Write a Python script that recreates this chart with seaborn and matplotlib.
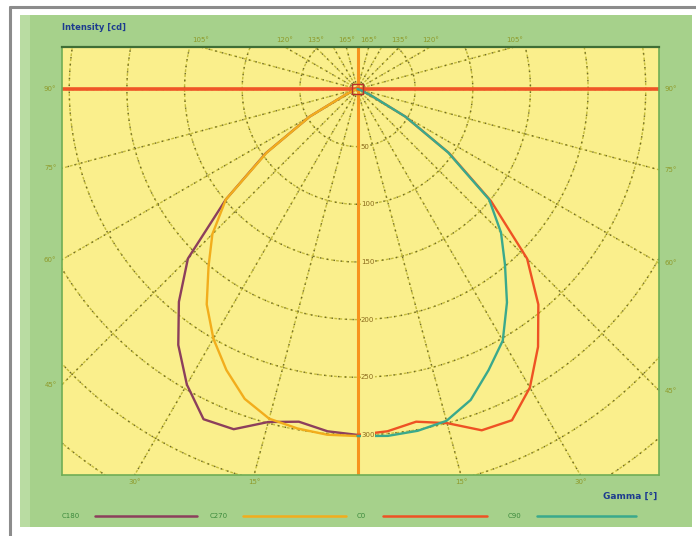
import numpy as np
import pandas as pd
import seaborn as sns
import matplotlib
matplotlib.use("Agg")
import matplotlib.pyplot as plt
from matplotlib.patches import Rectangle
from matplotlib.lines import Line2D

# Luminous intensity distribution (cd) per C-plane, gamma measured from nadir
gamma_deg = [0, 5, 10, 15, 20, 25, 30, 35, 40, 45, 50, 55, 60, 65, 70, 75, 80, 85, 90]
c180 = [300, 298, 293, 299, 314, 316, 296, 271, 241, 208, 149, 97, 48, 11, 3, 0, 0, 0, 0]
c270 = [301, 301, 299, 296, 286, 269, 250, 228, 201, 178, 149, 96, 48, 11, 3, 0, 0, 0, 0]
c0 = [300, 298, 293, 300, 315, 317, 299, 273, 244, 208, 151, 97, 48, 12, 3, 0, 0, 0, 0]
c90 = [301, 302, 301, 298, 287, 269, 252, 226, 199, 176, 149, 96, 48, 12, 3, 0, 0, 0, 0]

plane_names = ["C180", "C270", "C0", "C90"]
plane_values = {"C180": c180, "C270": c270, "C0": c0, "C90": c90}
plane_side = {"C180": -1, "C270": -1, "C0": 1, "C90": 1}
plane_colors = {"C180": "#8c3f5c", "C270": "#f2ad1c", "C0": "#ee5224", "C90": "#3aa98c"}

ring_values = [50, 100, 150, 200, 250, 300]
angle_labels = [15, 30, 45, 60, 75, 90, 105, 120, 135, 165]

# polar -> cartesian (cd units), left half for C180/C270, right half for C0/C90
rows = []
for name in plane_names:
    for i, (g, v) in enumerate(zip(gamma_deg, plane_values[name])):
        a = np.radians(g)
        rows.append({"plane": name, "order": i,
                     "x": plane_side[name] * v * np.sin(a),
                     "y": -v * np.cos(a)})
df = pd.DataFrame(rows)

sns.set_theme(style="white")
plt.rcParams["font.family"] = ["DejaVu Sans"]

W, H = 696, 536
fig = plt.figure(figsize=(W / 100, H / 100), dpi=100)
fig.patch.set_facecolor("white")


def fx(x):
    return x / W


def fy(y):
    return 1 - y / H


# outer frame and green panel
fig.add_artist(Line2D([fx(10), fx(10)], [0, fy(7)], color="#8c8c8c", lw=2.2,
                      transform=fig.transFigure, zorder=-2))
fig.add_artist(Line2D([fx(10), 1], [fy(7), fy(7)], color="#8c8c8c", lw=2.2,
                      transform=fig.transFigure, zorder=-2))
fig.add_artist(Rectangle((fx(20), fy(527)), (692 - 20) / W, (527 - 15) / H,
                         facecolor="#a6d18b", edgecolor="none",
                         transform=fig.transFigure, zorder=-1))
fig.add_artist(Rectangle((fx(20), fy(527)), 10 / W, (527 - 15) / H,
                         facecolor="#b9dca2", edgecolor="none",
                         transform=fig.transFigure, zorder=-1))

# plot area
k = 1.153  # px per cd
cx, cy = 357.5, 89.0
left, right, top, bottom = 62, 659, 47, 475
ax = fig.add_axes([fx(left), fy(bottom), (right - left) / W, (bottom - top) / H])
ax.set_facecolor("#faef8c")
xmin, xmax = -(cx - left) / k, (right - cx) / k
ymin, ymax = -(bottom - cy) / k, (cy - top) / k
ax.set_xlim(xmin, xmax)
ax.set_ylim(ymin, ymax)
ax.set_xticks([])
ax.set_yticks([])
for s in ax.spines.values():
    s.set_color("#6fae55")
    s.set_linewidth(1.2)
ax.spines["top"].set_color("#3f6e36")
ax.spines["top"].set_linewidth(1.6)

# dotted polar grid: olive dashes with darker dots on top
soft_kw = dict(color="#c4bb3a", lw=1.0, ls=(0, (2.0, 1.6)), zorder=1)
dot_kw = dict(color="#6e6a2c", lw=1.0, ls=(0, (1.0, 4.0)), zorder=1)
t = np.linspace(0, 2 * np.pi, 721)
for r in range(50, 701, 50):
    ax.plot(r * np.sin(t), r * np.cos(t), **soft_kw)
    ax.plot(r * np.sin(t), r * np.cos(t), **dot_kw)
for a in range(0, 360, 15):
    ar = np.radians(a)
    xs, ys = [0, 900 * np.sin(ar)], [0, -900 * np.cos(ar)]
    ax.plot(xs, ys, **soft_kw)
    ax.plot(xs, ys, **dot_kw)

ax.axvline(0, color="#f7931e", lw=2.2, zorder=2)
ax.axhline(0, color="#ef5526", lw=2.6, zorder=2)

sns.lineplot(data=df, x="x", y="y", hue="plane", units="plane", estimator=None,
             sort=False, palette=plane_colors, hue_order=plane_names,
             lw=1.7, legend=False, ax=ax, zorder=3)
ax.set_xlabel("")
ax.set_ylabel("")

# source marker at the origin
ax.add_patch(Rectangle((-4.5, -4.5), 9, 9, fill=False, edgecolor="#b8302a", lw=1, zorder=4))

# intensity ring labels
for r in ring_values:
    ax.text(3, -r, str(r), fontsize=5, color="#8a6a1c", ha="left", va="center",
            zorder=4, bbox=dict(facecolor="#faef8c", edgecolor="none", pad=0.3))

# gamma labels where the radial lines leave the frame
lab_kw = dict(fontsize=5, color="#8f9a2a", annotation_clip=False)
for g in angle_labels:
    a = np.radians(g)
    for side in (-1, 1):
        dx, dy = side * np.sin(a), -np.cos(a)
        cands = []
        if dx != 0:
            tx = (xmin if side < 0 else xmax) / dx
            cands.append(("side", tx))
        if dy > 1e-9:
            cands.append(("top", ymax / dy))
        if dy < -1e-9:
            cands.append(("bottom", ymin / dy))
        where, tt = min(cands, key=lambda c: c[1])
        px_, py_ = tt * dx, tt * dy
        if where == "side":
            off = (-4, 0) if side < 0 else (4, 0)
            ha = "right" if side < 0 else "left"
            ax.annotate(f"{g}°", (px_, py_), xytext=off, textcoords="offset points",
                        ha=ha, va="center", **lab_kw)
        elif where == "top":
            ax.annotate(f"{g}°", (px_, py_), xytext=(0, 3), textcoords="offset points",
                        ha="center", va="bottom", **lab_kw)
        else:
            ax.annotate(f"{g}°", (px_, py_), xytext=(0, -3), textcoords="offset points",
                        ha="center", va="top", **lab_kw)

# titles
fig.text(fx(62), fy(28), "Intensity [cd]", fontsize=6, fontweight="bold",
         color="#1d3b8f", ha="left", va="center")
fig.text(fx(657), fy(496), "Gamma [°]", fontsize=6.5, fontweight="bold",
         color="#1d3b8f", ha="right", va="center")

# legend row
legend_pos = {"C180": (62, 95, 197), "C270": (210, 243, 346),
              "C0": (357, 383, 487), "C90": (508, 537, 636)}
for name in plane_names:
    tx_, l0, l1 = legend_pos[name]
    fig.text(fx(tx_), fy(516), name, fontsize=5, color="#3c8a3c", ha="left", va="center")
    fig.add_artist(Line2D([fx(l0), fx(l1)], [fy(516), fy(516)],
                          color=plane_colors[name], lw=1.8, transform=fig.transFigure))

fig.savefig("out.png", dpi=100, facecolor="white")
